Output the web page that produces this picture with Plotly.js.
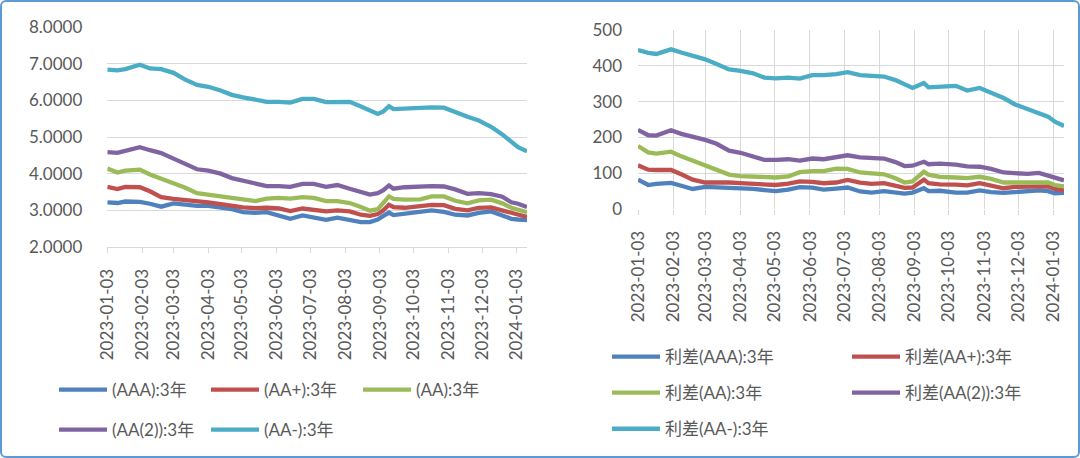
<!DOCTYPE html>
<html>
<head>
<meta charset="utf-8">
<script src="https://cdn.plot.ly/plotly-3.0.1.min.js"></script>
<style>
  html, body { margin: 0; padding: 0; background: #fff; }
  #wrap { position: relative; width: 1080px; height: 458px; }
  #chart { position: absolute; left: 0; top: 0; width: 1080px; height: 458px; }
  #frame { position: absolute; left: 0; top: 0; width: 1080px; height: 458px; box-sizing: border-box;
           border: 2px solid #5B9BD5; border-radius: 6px; pointer-events: none; }
</style>
</head>
<body>
<div id="wrap"><div id="chart"></div><div id="frame"></div></div>
<script>
// ---- data ----
const dates = ['2023-01-03','2023-01-12','2023-01-19','2023-02-01','2023-02-10','2023-02-20','2023-03-03','2023-03-13','2023-03-24','2023-04-03',
  '2023-04-14','2023-04-24','2023-05-04','2023-05-15','2023-05-25','2023-06-05','2023-06-15','2023-06-26','2023-07-06','2023-07-17',
  '2023-07-27','2023-08-07','2023-08-17','2023-08-25','2023-09-01','2023-09-06','2023-09-11','2023-09-15','2023-09-25','2023-10-09',
  '2023-10-19','2023-10-30','2023-11-09','2023-11-20','2023-11-30','2023-12-11','2023-12-21','2023-12-29','2024-01-04','2024-01-12'];

// left chart: yields (%)
const yAAA  = [3.22,3.20,3.24,3.23,3.18,3.10,3.19,3.15,3.12,3.12,3.08,3.03,2.95,2.93,2.95,2.86,2.77,2.86,2.80,2.74,2.80,2.75,2.68,2.68,2.75,2.85,2.94,2.87,2.91,2.94,3.00,2.96,2.88,2.86,2.93,2.97,2.85,2.77,2.75,2.73];
const yAAp  = [3.64,3.58,3.64,3.63,3.52,3.36,3.31,3.29,3.26,3.22,3.17,3.12,3.08,3.06,3.07,3.05,2.98,3.05,3.02,2.97,3.00,2.97,2.88,2.85,2.90,3.00,3.15,3.09,3.07,3.10,3.15,3.14,3.04,3.00,3.07,3.08,3.00,2.91,2.86,2.82];
const yAA   = [4.14,4.03,4.08,4.11,3.98,3.87,3.76,3.62,3.47,3.43,3.39,3.33,3.29,3.25,3.32,3.34,3.32,3.36,3.34,3.25,3.25,3.20,3.09,2.99,3.03,3.20,3.38,3.31,3.29,3.30,3.38,3.38,3.26,3.19,3.27,3.29,3.19,3.07,3.02,2.95];
const yAA2  = [4.59,4.57,4.62,4.72,4.64,4.56,4.41,4.26,4.12,4.08,4.00,3.88,3.80,3.74,3.66,3.66,3.64,3.72,3.72,3.64,3.69,3.59,3.50,3.43,3.47,3.55,3.68,3.59,3.63,3.65,3.66,3.65,3.57,3.45,3.47,3.44,3.37,3.22,3.18,3.09];
const yAAm  = [6.84,6.82,6.85,6.97,6.87,6.85,6.75,6.57,6.42,6.37,6.27,6.15,6.08,6.01,5.96,5.96,5.94,6.04,6.04,5.95,5.96,5.96,5.83,5.72,5.63,5.70,5.84,5.76,5.78,5.80,5.81,5.80,5.67,5.55,5.45,5.28,5.07,4.85,4.72,4.61];

// right chart: spreads (bp)
const sAAA  = [82,67,70,73,65,56,62,61,59,58,56,53,50,54,61,60,54,57,60,49,46,50,45,43,46,52,58,50,51,46,46,52,47,45,48,51,52,50,44,45];
const sAAp  = [122,110,109,109,97,82,74,75,74,72,70,69,67,71,77,76,72,74,81,74,70,72,65,59,60,70,82,72,69,68,66,72,65,58,62,62,62,63,56,52];
const sAA   = [176,158,155,160,147,135,124,110,96,92,90,88,88,91,103,106,106,113,112,102,100,97,86,74,77,90,104,96,90,88,86,90,84,74,74,76,76,74,67,63];
const sAA2  = [221,206,205,220,210,202,193,182,163,157,148,137,137,139,135,141,139,144,150,144,143,141,131,120,121,126,132,125,127,124,119,118,112,102,100,98,101,94,86,80];
const sAAm  = [444,436,433,446,437,429,418,405,390,386,379,367,365,367,364,374,374,377,382,374,371,370,360,347,338,345,352,340,342,344,331,338,325,310,292,278,266,258,244,232];

const leftNames  = ['(AAA):3年','(AA+):3年','(AA):3年','(AA(2)):3年','(AA-):3年'];
const rightNames = ['利差(AAA):3年','利差(AA+):3年','利差(AA):3年','利差(AA(2)):3年','利差(AA-):3年'];
const colors = ['#4F81BD','#C0504D','#9BBB59','#8064A2','#4BACC6'];

// ---- build ----
const leftData  = [yAAA, yAAp, yAA, yAA2, yAAm];
const rightData = [sAAA, sAAp, sAA, sAA2, sAAm];
const leftLegends  = ['legend','legend','legend','legend2','legend2'];
const rightLegends = ['legend3','legend4','legend3','legend4','legend3'];

const traces = [];
leftData.forEach((v, i) => traces.push({
  x: dates, y: v, name: leftNames[i], type: 'scatter', mode: 'lines',
  line: {color: colors[i], width: 4.3}, xaxis: 'x', yaxis: 'y', legend: leftLegends[i]
}));
rightData.forEach((v, i) => traces.push({
  x: dates, y: v, name: rightNames[i], type: 'scatter', mode: 'lines',
  line: {color: colors[i], width: 4.3}, xaxis: 'x2', yaxis: 'y2', legend: rightLegends[i],
  legendgroup: 'g' + i
}));

const FONT = 'Lato, "Noto Sans CJK SC", sans-serif';
const TXT = '#595959';
const GRID = '#D9D9D9';
const W = 1080, H = 458;
const px = v => v / W, py = v => 1 - v / H;

const xCommon = {
  type: 'date', range: ['2023-01-03', '2024-01-12'], tick0: '2023-01-03', dtick: 'M1',
  tickformat: '%Y-%m-%d', tickangle: -90, ticks: 'outside', ticklen: 5, tickcolor: GRID,
  tickfont: {family: FONT, size: 17, color: TXT}, automargin: false, zeroline: false, fixedrange: true
};
const legCommon = {
  xanchor: 'left', bgcolor: 'rgba(0,0,0,0)',
  font: {family: FONT, size: 17, color: TXT}, itemwidth: 48
};
const legH = Object.assign({}, legCommon, {orientation: 'h', yanchor: 'middle', traceorder: 'normal',
  entrywidthmode: 'pixels', entrywidth: 89});
const legV = Object.assign({}, legCommon, {orientation: 'v', yanchor: 'top', traceorder: 'grouped',
  tracegroupgap: 11});

const layout = {
  width: W, height: H, margin: {l: 0, r: 0, t: 0, b: 0},
  paper_bgcolor: '#fff', plot_bgcolor: '#fff', showlegend: true,
  font: {family: FONT, color: TXT},
  xaxis: Object.assign({}, xCommon, {
    domain: [px(107.3), px(527)], anchor: 'y', showgrid: false,
    showline: true, linecolor: GRID, linewidth: 1, ticklabelstandoff: 9
  }),
  yaxis: {
    domain: [py(247), py(27)], anchor: 'x', range: [2, 8], dtick: 1, tickformat: '.4f',
    showgrid: true, gridcolor: GRID, gridwidth: 1, showline: false, zeroline: false,
    tickfont: {family: FONT, size: 17, color: TXT}, ticklabelstandoff: 24, automargin: false, fixedrange: true
  },
  xaxis2: Object.assign({}, xCommon, {
    domain: [px(638), px(1064)], anchor: 'y2', showgrid: true, gridcolor: GRID, gridwidth: 1,
    showline: false, ticklabelstandoff: 9
  }),
  yaxis2: {
    domain: [py(209), py(30)], anchor: 'x2', range: [0, 500], dtick: 100,
    showgrid: true, gridcolor: GRID, gridwidth: 1, showline: false, zeroline: false,
    tickfont: {family: FONT, size: 17, color: TXT}, ticklabelstandoff: 15, automargin: false, fixedrange: true
  },
  legend:  Object.assign({}, legH, {x: px(54),  y: py(390)}),
  legend2: Object.assign({}, legH, {x: px(54),  y: py(430)}),
  legend3: Object.assign({}, legV, {x: px(607), y: py(339)}),
  legend4: Object.assign({}, legV, {x: px(847), y: py(339)})
};

Plotly.newPlot('chart', traces, layout, {displayModeBar: false, staticPlot: true});
</script>
</body>
</html>
